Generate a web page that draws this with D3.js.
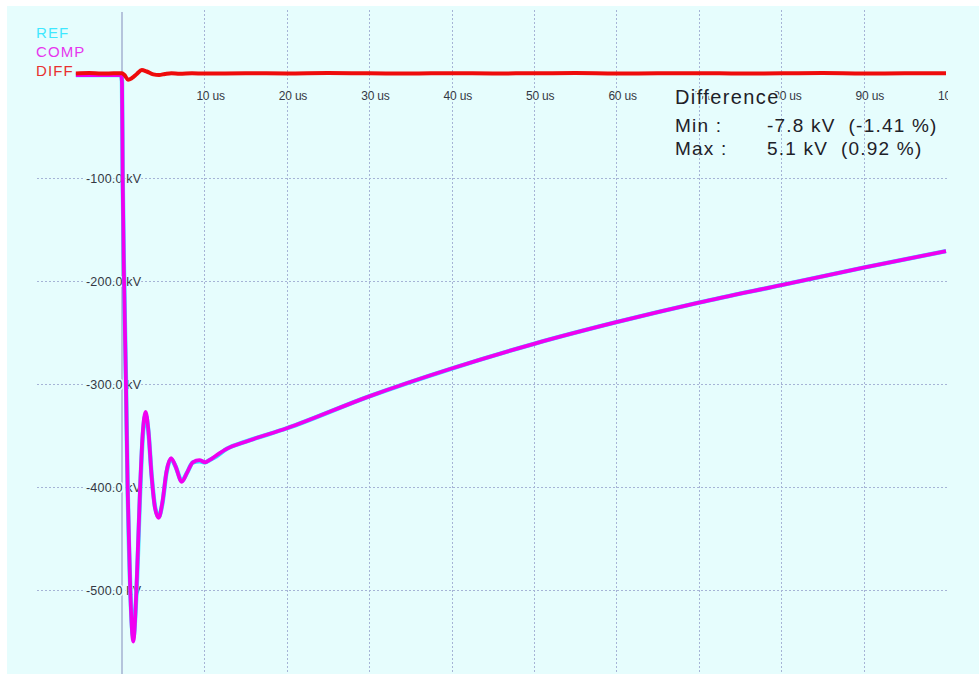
<!DOCTYPE html>
<html>
<head>
<meta charset="utf-8">
<script src="https://cdn.jsdelivr.net/npm/d3@7"></script>
<style>
  html, body { margin: 0; padding: 0; background: #ffffff; }
  svg { display: block; }
</style>
</head>
<body>
<svg id="chart" width="979" height="674"></svg>
<script>
// Impulse record: reference vs. compared waveform, in kV over time in microseconds
const timeUs = [-5.6, -0.1, 0.0, 0.08, 0.25, 0.48, 0.68, 1.0, 1.37, 1.75, 2.2, 2.5, 2.87, 3.2, 3.6, 4.0, 4.45,
  4.9, 5.4, 5.95, 6.5, 7.25, 7.9, 8.6, 9.4, 10.1, 10.6, 11.5, 12.7, 15, 20, 30, 40, 50, 60, 70,
  80, 90, 100];
const compKv = [0, 0, -8, -100, -200, -300, -400, -500, -550, -500, -400, -350, -327, -345, -390, -420, -430,
  -415, -385, -372, -380, -395, -386, -376, -374, -376, -374, -369, -363, -356, -343, -312, -285, -261,
  -240, -221, -204, -187, -171];
const refKv = [0, 0, -6, -96, -195, -296, -397, -497, -546, -503, -405, -353, -330, -346, -389, -419, -429,
  -416, -386, -373, -380, -394, -386, -376, -375, -376, -374, -370, -363, -356, -343, -312, -285, -261,
  -240, -221, -204, -187, -171];

// Difference trace (compared minus reference), kV
const diffTimeUs = [-5.6, -4, -2.5, -1, 0, 0.3, 0.73, 1.2, 1.8, 2.4, 3.0, 3.8, 4.5, 5.2, 6, 7, 8.5, 10, 15,
  20, 25, 30, 35, 40, 45, 50, 55, 60, 65, 70, 75, 80, 85, 90, 95, 100];
const diffKv = [1.5, 1.9, 1.4, 1.7, 1.8, 0.0, -4.5, -3.0, 1.0, 4.8, 3.4, 0.6, 0.0, 1.0, 1.8, 1.2, 1.6, 1.4,
  1.7, 1.5, 1.9, 1.6, 1.4, 1.8, 1.5, 1.7, 1.9, 1.5, 1.6, 1.8, 1.4, 1.7, 1.9, 1.5, 1.6, 1.7];

const timeTicks = [10, 20, 30, 40, 50, 60, 70, 80, 90, 100];
const timeTickLabels = ["10 us", "20 us", "30 us", "40 us", "50 us", "60 us", "70 us", "80 us", "90 us", "100 us"];
const kvTicks = [-100, -200, -300, -400, -500];
const kvTickLabels = ["-100.0 kV", "-200.0 kV", "-300.0 kV", "-400.0 kV", "-500.0 kV"];

const legendNames = ["REF", "COMP", "DIFF"];
const legendColors = ["#3ee8ff", "#e636ee", "#e83030"];

const statTitle = "Difference";
const statLabels = ["Min :", "Max :"];
const statValues = ["-7.8 kV", "5.1 kV"];
const statPercents = ["(-1.41 %)", "(0.92 %)"];

const BG = "#e6fdfd";
const GRID = "#a6b4d6";
const FONT = "'Liberation Sans', Arial, sans-serif";

const svg = d3.select("#chart");

const x = d3.scaleLinear().domain([0, 100]).range([122, 946]);
const y = d3.scaleLinear().domain([0, -500]).range([75, 590]);

// panel
svg.append("rect").attr("x", 7).attr("y", 6).attr("width", 972).attr("height", 668).attr("fill", BG);

svg.append("defs").append("clipPath").attr("id", "plotClip")
  .append("rect").attr("x", 7).attr("y", 6).attr("width", 941).attr("height", 668);

const plot = svg.append("g").attr("clip-path", "url(#plotClip)");

// vertical grid
plot.append("g").selectAll("line").data(timeTicks.filter(t => t < 100)).join("line")
  .attr("x1", d => Math.round(x(d)) + 0.5).attr("x2", d => Math.round(x(d)) + 0.5)
  .attr("y1", 10).attr("y2", 674)
  .attr("stroke", GRID).attr("stroke-width", 1).attr("stroke-dasharray", "2,2");

// horizontal grid
plot.append("g").selectAll("line").data(kvTicks).join("line")
  .attr("x1", 37).attr("x2", 948)
  .attr("y1", d => Math.round(y(d)) + 0.5).attr("y2", d => Math.round(y(d)) + 0.5)
  .attr("stroke", GRID).attr("stroke-width", 1).attr("stroke-dasharray", "2,2");

// time-zero axis
plot.append("line")
  .attr("x1", x(0)).attr("x2", x(0)).attr("y1", 12).attr("y2", 674)
  .attr("stroke", "#a4b0d0").attr("stroke-width", 1.5);

// kV labels sitting on their grid lines
plot.append("g").selectAll("text").data(kvTicks).join("text")
  .attr("x", 86).attr("y", d => y(d) + 4.5)
  .attr("font-family", FONT).attr("font-size", 12.5).attr("letter-spacing", 0.2)
  .attr("fill", "#343844")
  .attr("stroke", BG).attr("stroke-width", 3).attr("paint-order", "stroke")
  .text((d, i) => kvTickLabels[i]);

// time labels
plot.append("g").selectAll("text").data(timeTicks).join("text")
  .attr("x", d => x(d) - 8).attr("y", 100)
  .attr("font-family", FONT).attr("font-size", 12).attr("letter-spacing", -0.2)
  .attr("fill", "#343844")
  .attr("stroke", BG).attr("stroke-width", 2).attr("paint-order", "stroke")
  .text((d, i) => timeTickLabels[i]);

// legend
svg.append("g").selectAll("text").data(legendNames).join("text")
  .attr("x", 36).attr("y", (d, i) => 37.5 + i * 19)
  .attr("font-family", FONT).attr("font-size", 15).attr("letter-spacing", 1.1)
  .attr("fill", (d, i) => legendColors[i])
  .text(d => d);

// waveforms
const line = d3.line().curve(d3.curveMonotoneX);

plot.append("path")
  .attr("d", line(timeUs.map((t, i) => [x(t), y(refKv[i])])))
  .attr("fill", "none").attr("stroke", "#2ee6ff").attr("stroke-width", 4.4)
  .attr("stroke-linejoin", "round");

plot.append("path")
  .attr("d", line(timeUs.map((t, i) => [x(t), y(compKv[i])])))
  .attr("fill", "none").attr("stroke", "#f000f0").attr("stroke-width", 3.8)
  .attr("stroke-linejoin", "round");

plot.append("path")
  .attr("d", line(diffTimeUs.map((t, i) => [x(t), y(diffKv[i])])))
  .attr("fill", "none").attr("stroke", "#ee0c0c").attr("stroke-width", 4)
  .attr("stroke-linejoin", "round");

// difference summary
const stats = svg.append("g")
  .attr("font-family", FONT).attr("font-size", 19).attr("letter-spacing", 1.2)
  .attr("fill", "#1e2128");

stats.append("text").attr("x", 675).attr("y", 104)
  .attr("font-size", 20).attr("letter-spacing", 1.4)
  .attr("stroke", BG).attr("stroke-width", 3).attr("paint-order", "stroke")
  .text(statTitle);

statLabels.forEach((lab, i) => {
  const yy = [131.5, 155][i];
  stats.append("text").attr("x", 675).attr("y", yy).text(lab);
  const v = stats.append("text").attr("x", 767).attr("y", yy).text(statValues[i]);
  const w = v.node().getComputedTextLength();
  stats.append("text").attr("x", 767 + w + 13).attr("y", yy).text(statPercents[i]);
});
</script>
</body>
</html>
